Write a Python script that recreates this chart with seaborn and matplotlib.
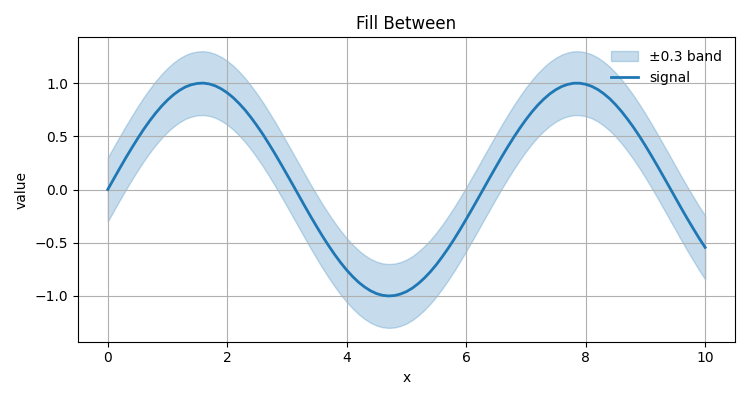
import numpy as np
import pandas as pd
import matplotlib
matplotlib.use("Agg")
import matplotlib.pyplot as plt
import seaborn as sns

# values (x every 0.1)
x = [0.0, 0.1, 0.2, 0.3, 0.4, 0.5, 0.6, 0.7, 0.8, 0.9,
     1.0, 1.1, 1.2, 1.3, 1.4, 1.5, 1.6, 1.7, 1.8, 1.9,
     2.0, 2.1, 2.2, 2.3, 2.4, 2.5, 2.6, 2.7, 2.8, 2.9,
     3.0, 3.1, 3.2, 3.3, 3.4, 3.5, 3.6, 3.7, 3.8, 3.9,
     4.0, 4.1, 4.2, 4.3, 4.4, 4.5, 4.6, 4.7, 4.8, 4.9,
     5.0, 5.1, 5.2, 5.3, 5.4, 5.5, 5.6, 5.7, 5.8, 5.9,
     6.0, 6.1, 6.2, 6.3, 6.4, 6.5, 6.6, 6.7, 6.8, 6.9,
     7.0, 7.1, 7.2, 7.3, 7.4, 7.5, 7.6, 7.7, 7.8, 7.9,
     8.0, 8.1, 8.2, 8.3, 8.4, 8.5, 8.6, 8.7, 8.8, 8.9,
     9.0, 9.1, 9.2, 9.3, 9.4, 9.5, 9.6, 9.7, 9.8, 9.9,
     10.0]
signal = [0.000, 0.100, 0.199, 0.296, 0.389, 0.479, 0.565, 0.644, 0.717, 0.783,
          0.841, 0.891, 0.932, 0.964, 0.985, 0.997, 1.000, 0.992, 0.974, 0.946,
          0.909, 0.863, 0.808, 0.746, 0.675, 0.598, 0.516, 0.427, 0.335, 0.239,
          0.141, 0.042, -0.058, -0.158, -0.256, -0.351, -0.443, -0.530, -0.612, -0.688,
          -0.757, -0.818, -0.872, -0.916, -0.952, -0.978, -0.994, -1.000, -0.996, -0.982,
          -0.959, -0.926, -0.883, -0.832, -0.773, -0.706, -0.631, -0.551, -0.465, -0.374,
          -0.279, -0.182, -0.083, 0.017, 0.117, 0.215, 0.312, 0.405, 0.494, 0.578,
          0.657, 0.729, 0.794, 0.850, 0.899, 0.938, 0.968, 0.988, 0.999, 0.999,
          0.989, 0.970, 0.941, 0.902, 0.855, 0.798, 0.734, 0.662, 0.585, 0.501,
          0.412, 0.319, 0.223, 0.124, 0.025, -0.075, -0.175, -0.272, -0.366, -0.458,
          -0.544]
band = 0.3

df = pd.DataFrame({"x": x, "signal": signal})
df["lo"] = df["signal"] - band
df["hi"] = df["signal"] + band

fig, ax = plt.subplots(figsize=(7.5, 4), dpi=100)

ax.fill_between(df["x"], df["lo"], df["hi"], color="C0", alpha=0.25,
                label="\u00b10.3 band")
sns.lineplot(data=df, x="x", y="signal", ax=ax, color="C0", linewidth=2,
             label="signal")

ax.set_title("Fill Between")
ax.set_xlabel("x")
ax.set_ylabel("value")
ax.grid(True)
ax.legend(loc="upper right", frameon=False)

plt.tight_layout()
plt.savefig("out.png")
